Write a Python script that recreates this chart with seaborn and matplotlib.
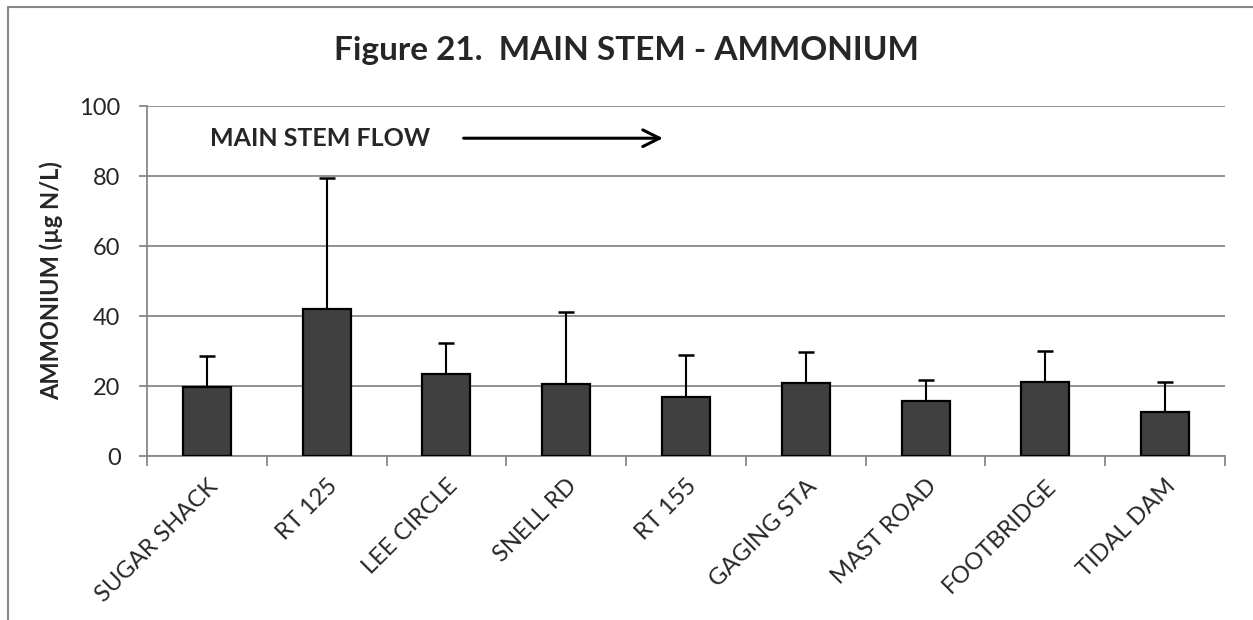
import matplotlib
matplotlib.use('Agg')
import matplotlib.pyplot as plt
from matplotlib.lines import Line2D
import seaborn as sns
import pandas as pd
import numpy as np

# values
sites = ['SUGAR SHACK', 'RT 125', 'LEE CIRCLE', 'SNELL RD', 'RT 155',
         'GAGING STA', 'MAST ROAD', 'FOOTBRIDGE', 'TIDAL DAM']
ammonium = [19.6, 41.9, 23.3, 20.5, 17.0, 21.0, 15.6, 21.1, 12.5]
ammonium_sd = [8.9, 37.5, 9.0, 20.6, 11.8, 8.6, 6.1, 8.8, 8.6]
y_ticks = [0, 20, 40, 60, 80, 100]

df = pd.DataFrame({'site': sites, 'nh4': ammonium, 'sd': ammonium_sd})

sns.set_style('white')
plt.rcParams['font.family'] = ['Lato', 'DejaVu Sans']

fig = plt.figure(figsize=(12.53, 6.2), dpi=100)
ax = fig.add_axes([0.1173, 0.2645, 0.8604, 0.5645])

grid_col = '#888888'

sns.barplot(data=df, x='site', y='nh4', color='#404040', saturation=1,
            width=0.4, edgecolor='black', linewidth=1.6, ax=ax, zorder=3)

# upper-only error bars
ax.errorbar(np.arange(len(sites)), df['nh4'],
            yerr=[np.zeros(len(sites)), df['sd']],
            fmt='none', ecolor='black', elinewidth=1.5, capsize=6,
            capthick=1.8, zorder=2)

ax.set_xlim(-0.5, len(sites) - 0.5)
ax.set_ylim(0, 100)
ax.set_yticks(y_ticks)
ax.yaxis.grid(True, color=grid_col, linewidth=1.3)
ax.set_axisbelow(True)

for s in ['top', 'right']:
    ax.spines[s].set_visible(False)
for s in ['left', 'bottom']:
    ax.spines[s].set_color(grid_col)
    ax.spines[s].set_linewidth(1.3)

ax.tick_params(axis='y', left=True, length=6, color=grid_col, width=1.3,
               labelsize=17, pad=13)
ax.set_xticks(np.arange(-0.5, len(sites)), minor=True)
ax.tick_params(axis='x', which='minor', bottom=True, length=7,
               color=grid_col, width=1.3)
ax.tick_params(axis='x', which='major', bottom=False, length=0,
               labelsize=17, pad=14)
ax.set_xticks(np.arange(len(sites)))
ax.set_xticklabels(sites, rotation=45, ha='right', rotation_mode='anchor')

ax.set_xlabel('')
ax.set_ylabel('AMMONIUM (µg N/L)', fontsize=17, fontweight='bold', labelpad=12)

fig.text(0.5, 0.919, 'Figure 21.  MAIN STEM - AMMONIUM', ha='center',
         va='center', fontsize=24, fontweight='bold')

ax.text(0.03, 90.8, 'MAIN STEM FLOW', fontsize=18, fontweight='bold',
        va='center', ha='left')
ax.annotate('', xy=(3.83, 90.8), xytext=(2.12, 90.8),
            arrowprops=dict(arrowstyle='->', color='black', lw=2.2,
                            mutation_scale=30))

# outer chart frame (only top/left edges visible in the crop)
fig.add_artist(Line2D([8 / 1253, 8 / 1253], [0, 1 - 7 / 620],
                      transform=fig.transFigure, color=grid_col, lw=1.5))
fig.add_artist(Line2D([8 / 1253, 1], [1 - 7 / 620, 1 - 7 / 620],
                      transform=fig.transFigure, color=grid_col, lw=1.5))

fig.savefig('out.png', dpi=100)
